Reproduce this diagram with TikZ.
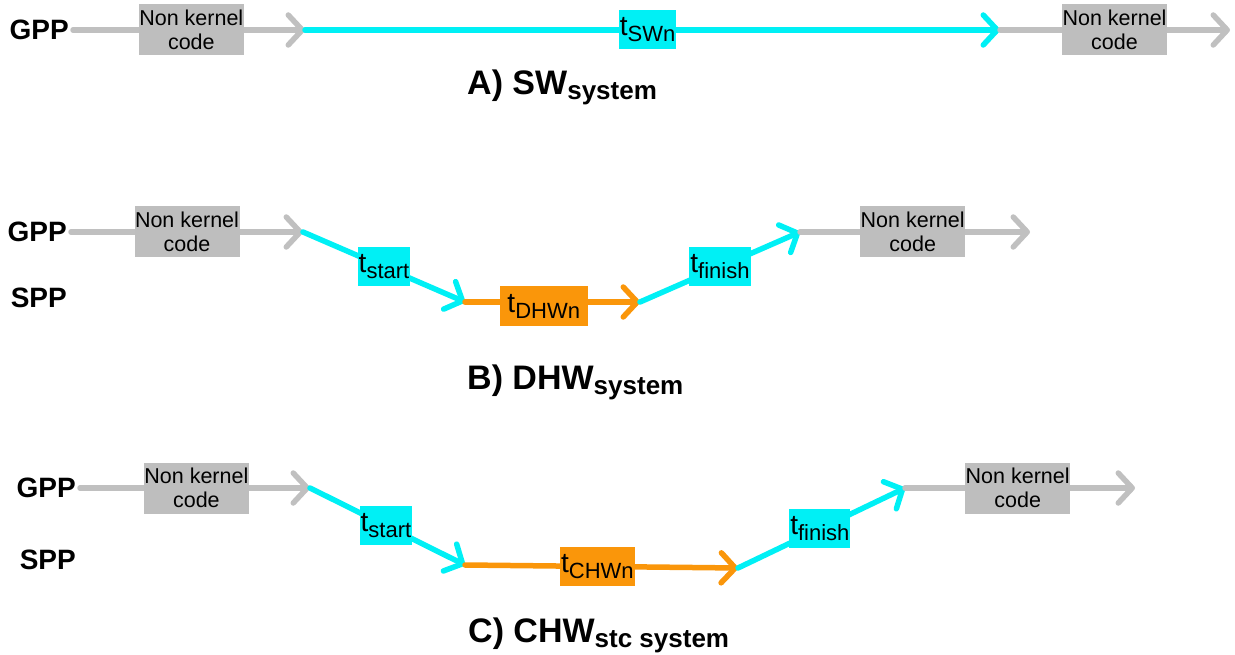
\documentclass[tikz,border=0pt]{standalone}
\usepackage{fontspec}
\setmainfont{Liberation Sans}
\usetikzlibrary{arrows.meta}

\definecolor{linegray}{RGB}{192,192,192}
\definecolor{boxgray}{RGB}{190,190,190}
\definecolor{tcyan}{RGB}{0,240,245}
\definecolor{torange}{RGB}{250,150,10}

\newcommand{\tlab}[1]{t\raisebox{-6pt}{\fontsize{22}{22}\selectfont #1}}
\newcommand{\ttl}[2]{#1\raisebox{-5pt}{\fontsize{26}{26}\selectfont #2}}

\tikzset{
  arrowline/.style={line width=5.5pt, line cap=round, -{Straight Barb[round,length=14pt,width=30pt]}},
  grayline/.style={arrowline, draw=linegray},
  cyanline/.style={arrowline, draw=tcyan},
  orangeline/.style={arrowline, draw=torange},
  nkbox/.style={fill=boxgray, minimum width=105pt, minimum height=51pt, inner sep=0pt, align=center, font=\fontsize{21.5}{24}\selectfont},
  tbox/.style={fill=tcyan, minimum height=39pt, inner xsep=1pt, inner ysep=0pt, font=\fontsize{28}{28}\selectfont},
  obox/.style={tbox, fill=torange},
  proc/.style={inner xsep=4pt, inner ysep=0pt, font=\fontsize{28}{28}\selectfont\bfseries},
  caption/.style={anchor=base west, inner sep=0pt, font=\fontsize{34}{34}\selectfont\bfseries}
}

\begin{document}
\begin{tikzpicture}[x=1pt,y=-1pt]
\useasboundingbox (0,0) rectangle (1235,655);
% A) software only
\node[proc, anchor=east] (gA) at (73,30) {GPP};
\coordinate (a1) at (305,30);
\coordinate (a2) at (1000,30);
\coordinate (a3) at (1230,30);
\draw[grayline] (gA.east) -- node[nkbox, pos=0.51] (nkA1) {Non kernel\\code} (a1);
\draw[cyanline] (a1) -- node[tbox, pos=0.493, minimum width=55pt] (swA) {\tlab{SWn}} (a2);
\draw[grayline] (a2) -- node[nkbox, pos=0.498] (nkA2) {Non kernel\\code} (a3);
\node[caption] (capA) at (467,95) {\ttl{A) SW}{system}};

% B) dynamic hardware
\node[proc, anchor=east] (gB) at (71,232) {GPP};
\node[proc, anchor=east] (sB) at (71,298) {SPP};
\coordinate (b1) at (303,232);
\coordinate (b2) at (465,302);
\coordinate (b3) at (640,302);
\coordinate (b4) at (800,232);
\coordinate (b5) at (1030,232);
\draw[grayline] (gB.east) -- node[nkbox, pos=0.5] (nkB1) {Non kernel\\code} (b1);
\draw[cyanline] (b1) -- node[tbox, pos=0.5, minimum width=50pt] (stB) {\tlab{start}} (b2);
\draw[orangeline] (b2) -- node[obox, pos=0.45, yshift=-4pt, minimum width=88pt] (hwB) {\tlab{DHWn}} (b3);
\draw[cyanline] (b3) -- node[tbox, pos=0.5, minimum width=60pt] (fiB) {\tlab{finish}} (b4);
\draw[grayline] (b4) -- node[nkbox, pos=0.49] (nkB2) {Non kernel\\code} (b5);
\node[caption] (capB) at (467,389) {\ttl{B) DHW}{system}};

% C) custom hardware
\node[proc, anchor=east] (gC) at (80,488) {GPP};
\node[proc, anchor=east] (sC) at (80,560) {SPP};
\coordinate (c1) at (310,488);
\coordinate (c2) at (465,565);
\coordinate (c3) at (738,568);
\coordinate (c4) at (905,488);
\coordinate (c5) at (1135,488);
\draw[grayline] (gC.east) -- node[nkbox, pos=0.506] (nkC1) {Non kernel\\code} (c1);
\draw[cyanline] (c1) -- node[tbox, pos=0.49, minimum width=50pt] (stC) {\tlab{start}} (c2);
\draw[orangeline] (c2) -- node[obox, pos=0.485, minimum width=71pt] (hwC) {\tlab{CHWn}} (c3);
\draw[cyanline] (c3) -- node[tbox, pos=0.49, minimum width=60pt] (fiC) {\tlab{finish}} (c4);
\draw[grayline] (c4) -- node[nkbox, pos=0.49] (nkC2) {Non kernel\\code} (c5);
\node[caption] (capC) at (468,642) {\ttl{C) CHW}{stc system}};
\end{tikzpicture}
\end{document}
